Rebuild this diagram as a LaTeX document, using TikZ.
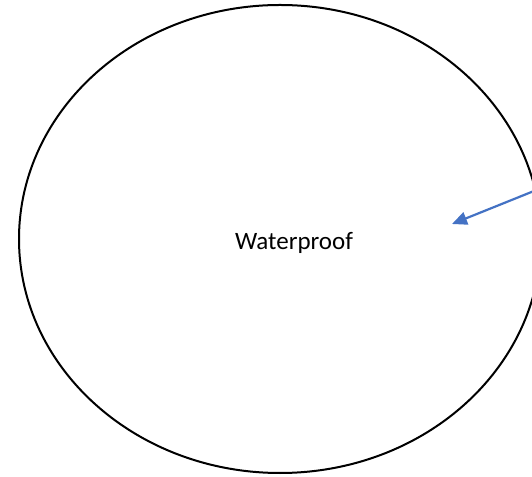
\documentclass[tikz,border=0pt]{standalone}
\usepackage{fontspec}
\setmainfont{Carlito}
\usetikzlibrary{shapes.geometric,arrows.meta}
\definecolor{arrowblue}{HTML}{4472C4}
\tikzset{
  oval/.style={ellipse, draw=black, line width=2pt, minimum width=522pt, minimum height=468pt, inner sep=0pt},
  label text/.style={font=\fontsize{25}{30}\selectfont, inner sep=0pt},
  pointer/.style={draw=arrowblue, line width=2.2pt, -{Triangle[length=15pt, width=13pt]}}
}
\begin{document}
\begin{tikzpicture}[x=1pt,y=1pt]
  \useasboundingbox (0,0) rectangle (532,476);
  \clip (0,0) rectangle (532,476);
  \fill[white] (0,0) rectangle (532,476);
  \node[oval] (e) at (280,237) {};
  \node[label text] (t) at (294,233) {Waterproof};
  \coordinate (s) at (534,285);
  \coordinate (tip) at (452,252);
  \draw[pointer] (s) -- (tip);
\end{tikzpicture}
\end{document}
